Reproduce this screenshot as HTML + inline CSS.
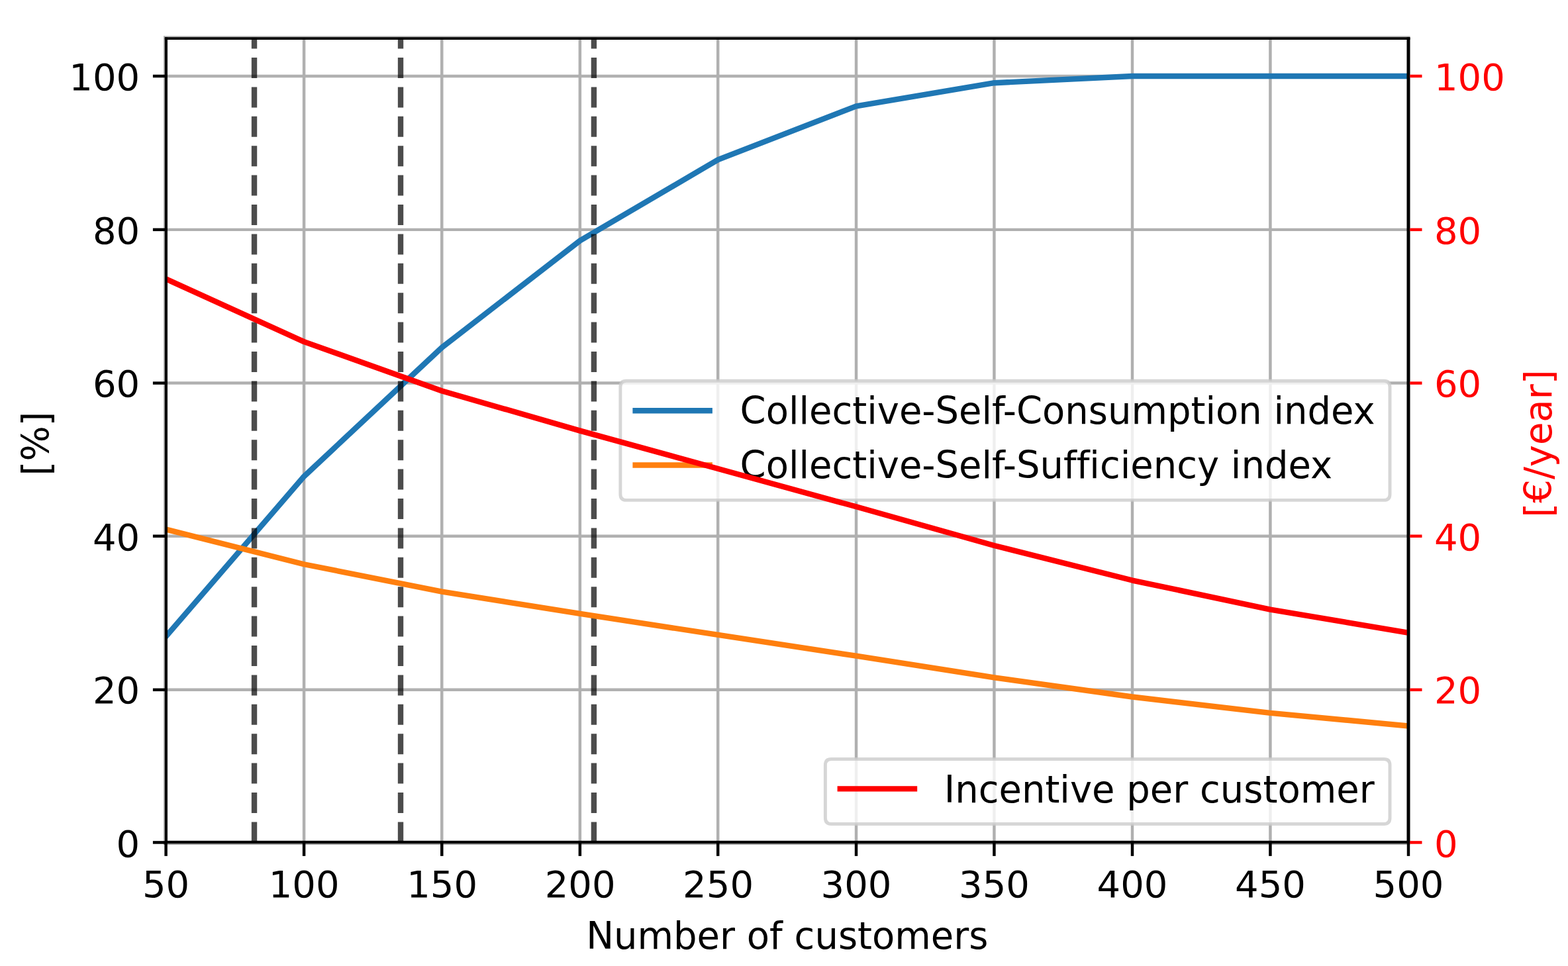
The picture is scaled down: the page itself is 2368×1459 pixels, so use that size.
<!DOCTYPE html>
<html lang="en"><head><meta charset="utf-8"><title>Collective self-consumption vs number of customers</title>
<style>
html,body{margin:0;padding:0;background:#fff;}
body{width:2368px;height:1459px;overflow:hidden;}
svg{display:block;}
text{font-family:"DejaVu Sans", "Liberation Sans", sans-serif;font-size:56.0px;font-variant-ligatures:none;font-feature-settings:"liga" 0,"clig" 0;}
</style></head><body>
<svg width="2368" height="1459" viewBox="0 0 2368 1459">
<defs><clipPath id="ax"><rect x="250.6" y="57.1" width="1876.40" height="1215.30"/></clipPath></defs>
<rect x="0" y="0" width="2368" height="1459" fill="#ffffff"/>
<g stroke="#b0b0b0" stroke-width="4.47" fill="none">
<line x1="459.09" y1="57.1" x2="459.09" y2="1272.4"/>
<line x1="667.28" y1="57.1" x2="667.28" y2="1272.4"/>
<line x1="875.87" y1="57.1" x2="875.87" y2="1272.4"/>
<line x1="1084.21" y1="57.1" x2="1084.21" y2="1272.4"/>
<line x1="1293.04" y1="57.1" x2="1293.04" y2="1272.4"/>
<line x1="1501.43" y1="57.1" x2="1501.43" y2="1272.4"/>
<line x1="1710.02" y1="57.1" x2="1710.02" y2="1272.4"/>
<line x1="1918.41" y1="57.1" x2="1918.41" y2="1272.4"/>
<line x1="250.6" y1="1041.81" x2="2127.0" y2="1041.81"/>
<line x1="250.6" y1="809.73" x2="2127.0" y2="809.73"/>
<line x1="250.6" y1="578.59" x2="2127.0" y2="578.59"/>
<line x1="250.6" y1="346.86" x2="2127.0" y2="346.86"/>
<line x1="250.6" y1="114.97" x2="2127.0" y2="114.97"/>
</g>
<g clip-path="url(#ax)" fill="none" stroke-linejoin="round">
<polyline points="250.60,961.30 459.09,719.58 667.58,524.64 876.07,363.38 1084.56,241.04 1293.04,160.41 1501.53,125.21 1710.02,114.97 1918.51,114.97 2127.00,114.97" stroke="#1f77b4" stroke-width="8.38" stroke-linecap="square"/>
<line x1="384.03" y1="1272.4" x2="384.03" y2="57.1" stroke="#000" stroke-opacity="0.7" stroke-width="8.38" stroke-dasharray="31.00 13.40"/>
<line x1="605.03" y1="1272.4" x2="605.03" y2="57.1" stroke="#000" stroke-opacity="0.7" stroke-width="8.38" stroke-dasharray="31.00 13.40"/>
<line x1="896.92" y1="1272.4" x2="896.92" y2="57.1" stroke="#000" stroke-opacity="0.7" stroke-width="8.38" stroke-dasharray="31.00 13.40"/>
<polyline points="250.60,799.53 459.09,852.25 667.58,893.54 876.07,926.97 1084.56,958.87 1293.04,990.69 1501.53,1023.30 1710.02,1052.49 1918.51,1076.92 2127.00,1096.47" stroke="#ff7f0e" stroke-width="8.38" stroke-linecap="square"/>
</g>
<g fill="#b0b0b0">
<rect x="247.0" y="54.4" width="1.9" height="1221.50"/>
<rect x="247.0" y="54.4" width="1882.50" height="2.0"/>
<rect x="247.0" y="1274.0" width="1882.50" height="1.9" fill="#9c9c9c"/>
</g>
<g fill="#000">
<rect x="248.9" y="56.4" width="3.9" height="1217.60"/>
<rect x="2124.7" y="56.4" width="4.6" height="1217.60"/>
<rect x="248.9" y="56.4" width="1880.40" height="3.5"/>
<rect x="248.9" y="1269.9" width="1880.40" height="4.1"/>
</g>
<g stroke="#000" stroke-width="4.47" fill="none">
<line x1="250.60" y1="1272.4" x2="250.60" y2="1292.90"/>
<line x1="459.09" y1="1272.4" x2="459.09" y2="1292.90"/>
<line x1="667.28" y1="1272.4" x2="667.28" y2="1292.90"/>
<line x1="875.87" y1="1272.4" x2="875.87" y2="1292.90"/>
<line x1="1084.21" y1="1272.4" x2="1084.21" y2="1292.90"/>
<line x1="1293.04" y1="1272.4" x2="1293.04" y2="1292.90"/>
<line x1="1501.43" y1="1272.4" x2="1501.43" y2="1292.90"/>
<line x1="1710.02" y1="1272.4" x2="1710.02" y2="1292.90"/>
<line x1="1918.41" y1="1272.4" x2="1918.41" y2="1292.90"/>
<line x1="2127.00" y1="1272.4" x2="2127.00" y2="1292.90"/>
<line x1="230.90" y1="1272.40" x2="250.6" y2="1272.40"/>
<line x1="230.90" y1="1041.81" x2="250.6" y2="1041.81"/>
<line x1="230.90" y1="809.73" x2="250.6" y2="809.73"/>
<line x1="230.90" y1="578.59" x2="250.6" y2="578.59"/>
<line x1="230.90" y1="346.86" x2="250.6" y2="346.86"/>
<line x1="230.90" y1="114.97" x2="250.6" y2="114.97"/>
</g>
<g>
<text transform="translate(250.60 1354.80)" text-anchor="middle" fill="#000">50</text>
<text transform="translate(459.09 1354.80)" text-anchor="middle" fill="#000">100</text>
<text transform="translate(667.58 1354.80)" text-anchor="middle" fill="#000">150</text>
<text transform="translate(876.07 1354.80)" text-anchor="middle" fill="#000">200</text>
<text transform="translate(1084.56 1354.80)" text-anchor="middle" fill="#000">250</text>
<text transform="translate(1293.04 1354.80)" text-anchor="middle" fill="#000">300</text>
<text transform="translate(1501.53 1354.80)" text-anchor="middle" fill="#000">350</text>
<text transform="translate(1710.02 1354.80)" text-anchor="middle" fill="#000">400</text>
<text transform="translate(1918.51 1354.80)" text-anchor="middle" fill="#000">450</text>
<text transform="translate(2127.00 1354.80)" text-anchor="middle" fill="#000">500</text>
<text transform="translate(211.20 1293.90)" text-anchor="end" fill="#000">0</text>
<text transform="translate(211.20 1062.41)" text-anchor="end" fill="#000">20</text>
<text transform="translate(211.20 831.43)" text-anchor="end" fill="#000">40</text>
<text transform="translate(211.20 599.44)" text-anchor="end" fill="#000">60</text>
<text transform="translate(211.20 368.16)" text-anchor="end" fill="#000">80</text>
<text transform="translate(211.20 136.27)" text-anchor="end" fill="#000">100</text>
<text transform="translate(1188.80 1433.20) scale(1 1.03)" text-anchor="middle" fill="#000">Number of customers</text>
<text transform="translate(74.00 670.00) rotate(-90) scale(1 1.03)" text-anchor="middle" fill="#000">[%]</text>
</g>
<path d="M945.90,575.20 L2090.00,575.20 Q2099.00,575.20 2099.00,584.20 L2099.00,746.40 Q2099.00,755.40 2090.00,755.40 L945.90,755.40 Q936.90,755.40 936.90,746.40 L936.90,584.20 Q936.90,575.20 945.90,575.20 Z" fill="#fff" fill-opacity="0.8" stroke="#cccccc" stroke-opacity="0.8" stroke-width="4.9"/>
<line x1="959.60" y1="620.3" x2="1071.70" y2="620.3" stroke="#1f77b4" stroke-width="8.38" stroke-linecap="square"/>
<text transform="translate(1117.60 639.60) scale(1 1.03)" text-anchor="start" fill="#000">Collective-Self-Consumption index</text>
<line x1="959.60" y1="702.5" x2="1071.70" y2="702.5" stroke="#ff7f0e" stroke-width="8.38" stroke-linecap="square"/>
<text transform="translate(1117.60 722.30) scale(1 1.03)" text-anchor="start" fill="#000">Collective-Self-Sufficiency index</text>
<g clip-path="url(#ax)" fill="none" stroke-linejoin="round">
<polyline points="250.60,421.23 459.09,516.14 667.58,590.44 876.07,650.63 1084.56,708.04 1293.04,765.33 1501.53,824.01 1710.02,876.56 1918.51,920.54 2127.00,955.73" stroke="#ff0000" stroke-width="8.38" stroke-linecap="square"/>
</g>
<g fill="#000">
<rect x="248.9" y="56.4" width="3.9" height="1217.60"/>
<rect x="2124.7" y="56.4" width="4.6" height="1217.60"/>
<rect x="248.9" y="56.4" width="1880.40" height="3.5"/>
<rect x="248.9" y="1269.9" width="1880.40" height="4.1"/>
</g>
<g stroke="#ff0000" stroke-width="4.47" fill="none">
<line x1="2129.3" y1="1272.40" x2="2147.50" y2="1272.40"/>
<line x1="2129.3" y1="1041.81" x2="2147.50" y2="1041.81"/>
<line x1="2129.3" y1="809.73" x2="2147.50" y2="809.73"/>
<line x1="2129.3" y1="578.59" x2="2147.50" y2="578.59"/>
<line x1="2129.3" y1="346.86" x2="2147.50" y2="346.86"/>
<line x1="2129.3" y1="114.97" x2="2147.50" y2="114.97"/>
</g>
<g>
<text transform="translate(2165.90 1293.90)" text-anchor="start" fill="#ff0000">0</text>
<text transform="translate(2165.90 1062.41)" text-anchor="start" fill="#ff0000">20</text>
<text transform="translate(2165.90 831.43)" text-anchor="start" fill="#ff0000">40</text>
<text transform="translate(2165.90 599.44)" text-anchor="start" fill="#ff0000">60</text>
<text transform="translate(2165.90 368.16)" text-anchor="start" fill="#ff0000">80</text>
<text transform="translate(2165.90 136.27)" text-anchor="start" fill="#ff0000">100</text>
<text transform="translate(2343.20 670.00) rotate(-90) scale(1 1.03)" text-anchor="middle" fill="#ff0000">[€/year]</text>
</g>
<path d="M1255.40,1146.50 L2090.00,1146.50 Q2099.00,1146.50 2099.00,1155.50 L2099.00,1235.50 Q2099.00,1244.50 2090.00,1244.50 L1255.40,1244.50 Q1246.40,1244.50 1246.40,1235.50 L1246.40,1155.50 Q1246.40,1146.50 1255.40,1146.50 Z" fill="#fff" fill-opacity="0.8" stroke="#cccccc" stroke-opacity="0.8" stroke-width="4.9"/>
<line x1="1268.80" y1="1191.4" x2="1381.00" y2="1191.4" stroke="#ff0000" stroke-width="8.38" stroke-linecap="square"/>
<text transform="translate(1425.70 1212.10) scale(1 1.03)" text-anchor="start" fill="#000">Incentive per customer</text>
</svg>
</body></html>
